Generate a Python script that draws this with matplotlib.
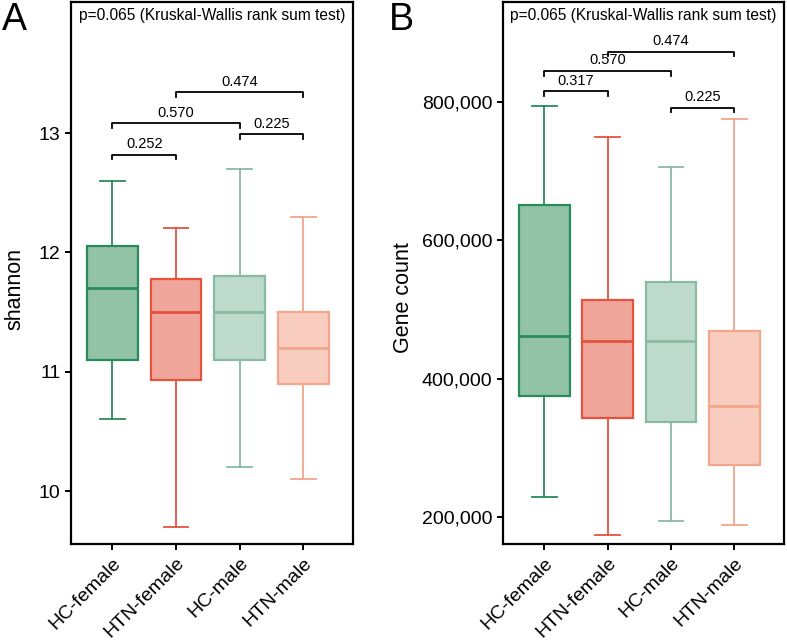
import matplotlib
matplotlib.use("Agg")
import matplotlib.pyplot as plt
from matplotlib.ticker import FuncFormatter

plt.rcParams['font.family'] = ['Liberation Sans', 'DejaVu Sans']

groups = ["HC-female", "HTN-female", "HC-male", "HTN-male"]
edge_cols = ["#2a8a5a", "#e3533d", "#89bba3", "#f3a68c"]
fill_cols = ["#92c3a6", "#f1a69b", "#bedacc", "#f8cdc0"]

# shannon: lower whisker, Q1, median, Q3, upper whisker
shannon_low = [10.60, 9.70, 10.20, 10.10]
shannon_q1 = [11.10, 10.93, 11.10, 10.90]
shannon_med = [11.70, 11.50, 11.50, 11.20]
shannon_q3 = [12.05, 11.78, 11.80, 11.50]
shannon_high = [12.60, 12.20, 12.70, 12.30]

# gene count
gene_low = [229000, 173500, 195000, 189000]
gene_q1 = [375000, 343000, 338000, 275000]
gene_med = [462000, 455000, 455000, 360000]
gene_q3 = [651000, 514000, 540000, 469000]
gene_high = [795000, 749000, 706000, 775000]

# pairwise brackets: (i, j, y, label)
shannon_pairs = [(1, 2, 12.82, "0.252"), (1, 3, 13.08, "0.570"),
                 (3, 4, 12.99, "0.225"), (2, 4, 13.34, "0.474")]
gene_pairs = [(1, 2, 816000, "0.317"), (1, 3, 845000, "0.570"),
              (3, 4, 792000, "0.225"), (2, 4, 873000, "0.474")]

kw_text = "p=0.065 (Kruskal-Wallis rank sum test)"


def draw_panel(ax, low, q1, med, q3, high, pairs, ylim, dtick):
    stats = []
    for i in range(4):
        stats.append(dict(whislo=low[i], q1=q1[i], med=med[i], q3=q3[i],
                          whishi=high[i], fliers=[]))
    bp = ax.bxp(stats, positions=[1, 2, 3, 4], widths=0.8, patch_artist=True,
                showfliers=False, capwidths=0.39)
    for i in range(4):
        bp['boxes'][i].set(facecolor=fill_cols[i], edgecolor=edge_cols[i], linewidth=1.6)
        bp['medians'][i].set(color=edge_cols[i], linewidth=2.0)
        for k in (2 * i, 2 * i + 1):
            bp['whiskers'][k].set(color=edge_cols[i], linewidth=1.3)
            bp['caps'][k].set(color=edge_cols[i], linewidth=1.3)
    ax.set_xlim(0.35, 4.78)
    ax.set_ylim(*ylim)
    ax.set_xticks([1, 2, 3, 4])
    ax.set_xticklabels(groups, rotation=45, ha='right', rotation_mode='anchor', fontsize=14)
    ax.tick_params(axis='y', labelsize=14, length=4, width=1.4)
    ax.tick_params(axis='x', length=4, width=1.4)
    for s in ax.spines.values():
        s.set_linewidth(1.6)
    for i, j, y, lab in pairs:
        ax.plot([i, i, j, j], [y - dtick, y, y, y - dtick], color='black', lw=1.3)
        ax.annotate(lab, xy=((i + j) / 2, y), xytext=(0, 2.5), textcoords='offset points',
                    ha='center', va='bottom', fontsize=10.5)
    ax.text(0.5, 0.988, kw_text, transform=ax.transAxes, ha='center', va='top', fontsize=11.2)


fig = plt.figure(figsize=(7.87, 6.41), dpi=100)
axA = fig.add_axes([0.0902, 0.1513, 0.3583, 0.8456])
axB = fig.add_axes([0.6391, 0.1513, 0.3570, 0.8456])

draw_panel(axA, shannon_low, shannon_q1, shannon_med, shannon_q3, shannon_high,
           shannon_pairs, (9.556, 14.098), 0.04)
axA.set_yticks([10, 11, 12, 13])
axA.set_ylabel("shannon", fontsize=15.5)
axA.yaxis.set_label_coords(-0.16, 0.47)

draw_panel(axB, gene_low, gene_q1, gene_med, gene_q3, gene_high,
           gene_pairs, (161000, 944700), 7000)
axB.set_yticks([200000, 400000, 600000, 800000])
axB.yaxis.set_major_formatter(FuncFormatter(lambda v, p: f"{int(v):,}"))
axB.set_ylabel("Gene count", fontsize=15.5)
axB.yaxis.set_label_coords(-0.318, 0.455)

fig.text(0.003, 0.997, "A", fontsize=27, ha='left', va='top')
fig.text(0.494, 0.997, "B", fontsize=27, ha='left', va='top')

fig.savefig("out.png", dpi=100)
